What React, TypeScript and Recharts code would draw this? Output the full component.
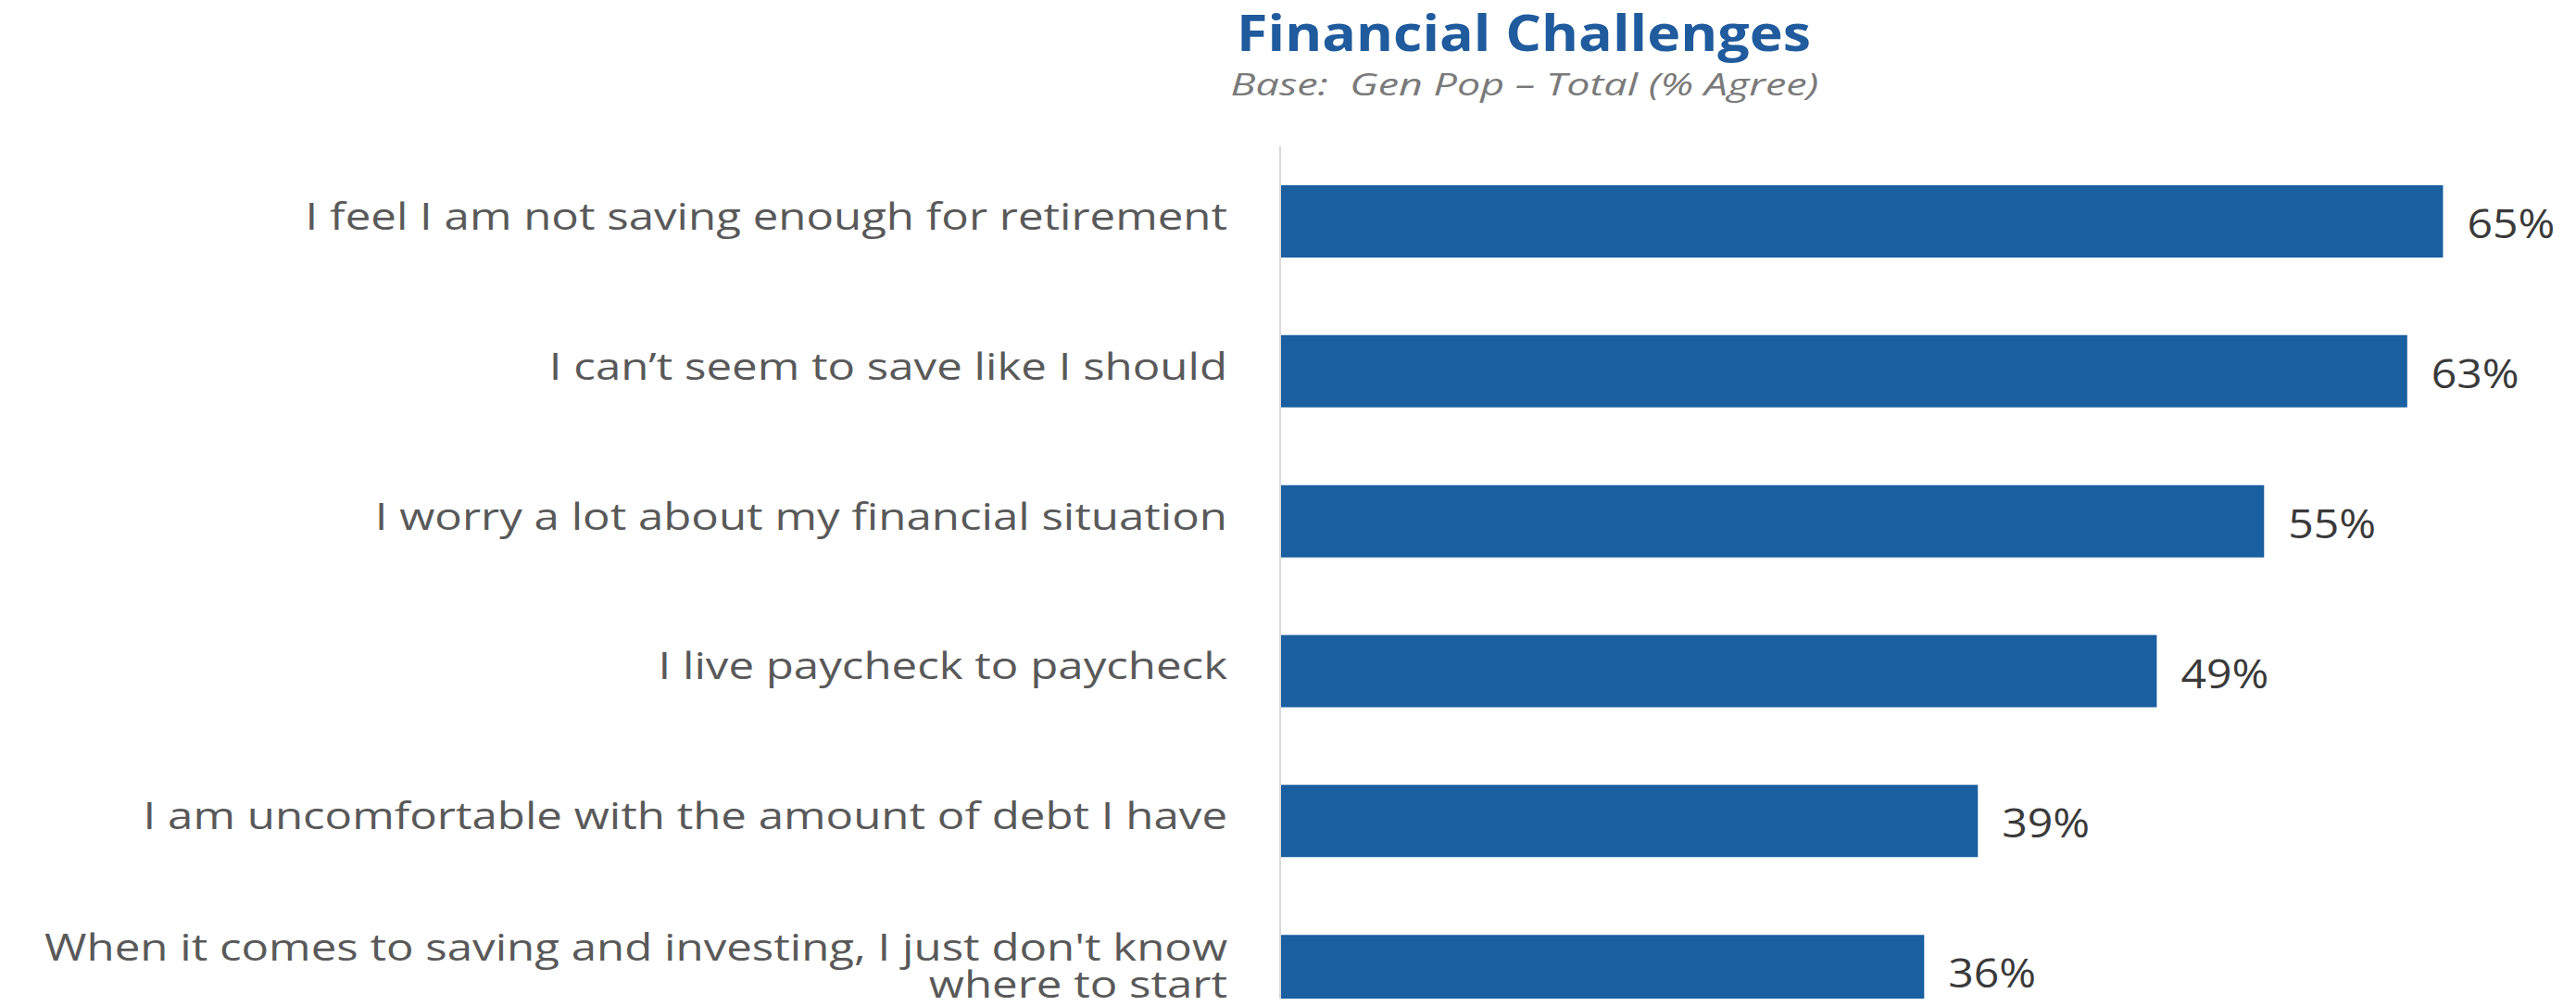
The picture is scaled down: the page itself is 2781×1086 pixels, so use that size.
import React from "react";
import { BarChart, Bar, XAxis, YAxis, LabelList } from "recharts";

const categories = [
  "I feel I am not saving enough for retirement",
  "I can\u2019t seem to save like I should",
  "I worry a lot about my financial situation",
  "I live paycheck to paycheck",
  "I am uncomfortable with the amount of debt I have",
  "When it comes to saving and investing, I just don't know\nwhere to start",
];
const values = [65, 63, 55, 49, 39, 36];
const titleText = "Financial Challenges";
const subtitleText = "Base:\u00a0 Gen Pop \u2013 Total (% Agree)";

const data = categories.map((name, i) => ({ name, value: values[i] }));

const FONT = "'Open Sans', 'Noto Sans', sans-serif";

const CategoryTick = (props: any) => {
  const { x, y, payload } = props;
  const lines: string[] = String(payload.value).split("\n");
  const multi = lines.length > 1;
  return (
    <g transform={`translate(${x - 57},${y})`}>
      <text
        transform="scale(1.2,1)"
        textAnchor="end"
        fontFamily={FONT}
        fontSize={41}
        fill="#595959"
      >
        {lines.map((l, i) => (
          <tspan key={i} x={0} y={multi ? -11 + i * 40 : 9}>
            {l}
          </tspan>
        ))}
      </text>
    </g>
  );
};

const ValueLabel = (props: any) => {
  const { x, y, width, height, value } = props;
  return (
    <g transform={`translate(${x + width + 26},${y + height / 2 + 18})`}>
      <text
        transform="scale(1.12,1)"
        fontFamily={FONT}
        fontSize={43}
        fill="#3a3a3a"
      >
        {`${value}%`}
      </text>
    </g>
  );
};

export default function App() {
  return (
    <div
      style={{
        position: "relative",
        width: 2773,
        height: 1070,
        overflow: "hidden",
        background: "#ffffff",
      }}
    >
      <BarChart
        width={2773}
        height={1121}
        layout="vertical"
        data={data}
        margin={{ top: 150, right: 47, bottom: 0, left: 0 }}
      >
        <XAxis type="number" domain={[0, 70]} hide />
        <YAxis
          type="category"
          dataKey="name"
          width={1374}
          interval={0}
          axisLine={{ stroke: "#d9d9d9", strokeWidth: 2 }}
          tickLine={false}
          tickSize={0}
          tickMargin={0}
          tick={<CategoryTick />}
        />
        <Bar
          dataKey="value"
          fill="#1a5f9f"
          barSize={78}
          isAnimationActive={false}
        >
          <LabelList dataKey="value" content={<ValueLabel />} />
        </Bar>
      </BarChart>
      <svg
        width={2773}
        height={130}
        style={{ position: "absolute", left: 0, top: 0, pointerEvents: "none" }}
      >
        <g transform="translate(1637,47) scale(1.15,1)">
          <text
            textAnchor="middle"
            fontFamily={FONT}
            fontWeight={700}
            fontSize={53}
            fill="#1f5b9d"
          >
            {titleText}
          </text>
        </g>
        <g transform="translate(1638,95) scale(1.36,1)">
          <text
            textAnchor="middle"
            fontFamily={FONT}
            fontStyle="italic"
            fontSize={33}
            fill="#7a7a7a"
          >
            {subtitleText}
          </text>
        </g>
      </svg>
    </div>
  );
}
